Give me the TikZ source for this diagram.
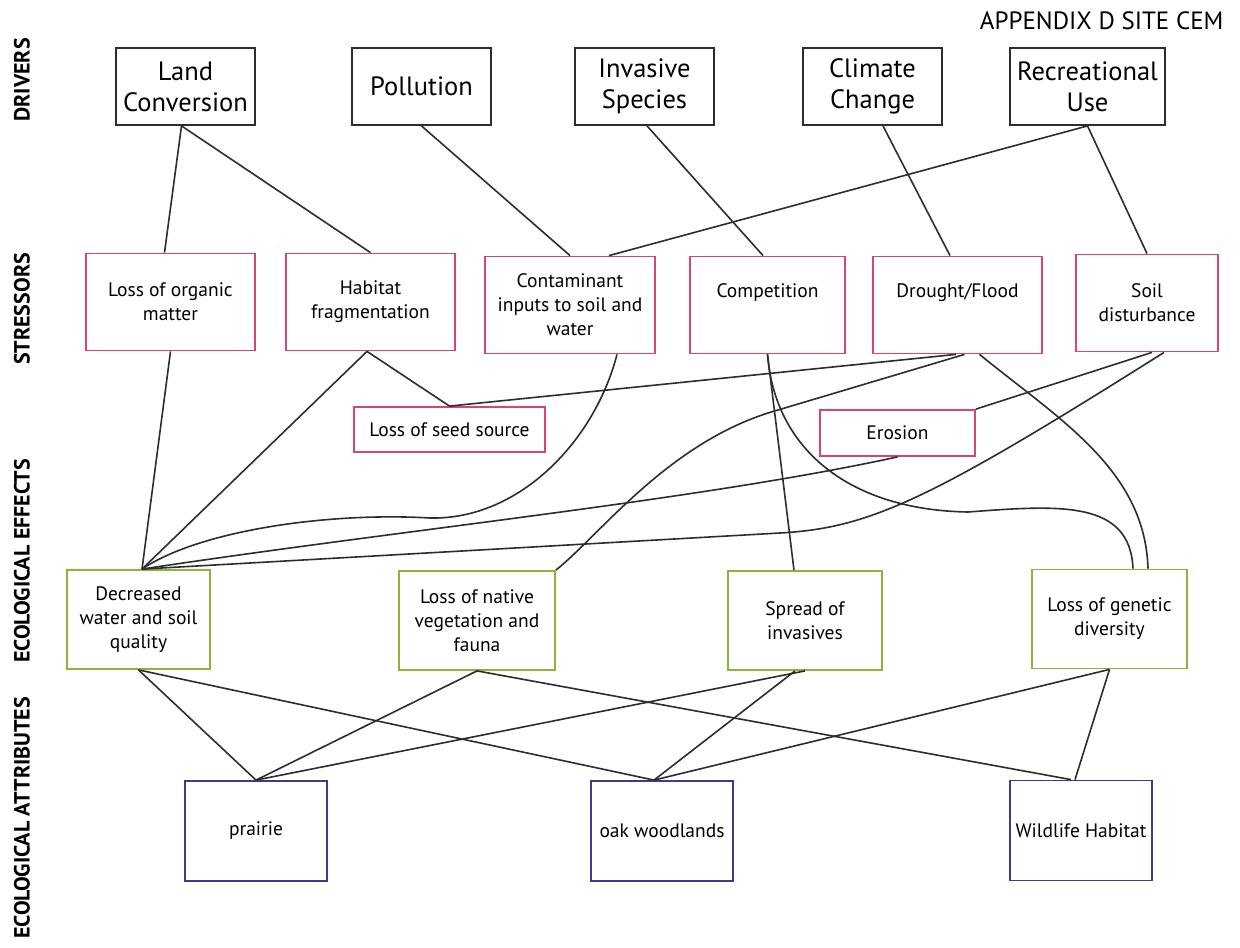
\documentclass[tikz,border=0pt]{standalone}
\usepackage{fontspec}
\setmainfont{PT Sans}
\usetikzlibrary{arrows.meta}
\definecolor{cemink}{RGB}{45,45,45}
\definecolor{cempink}{RGB}{217,66,122}
\definecolor{cemgreen}{RGB}{140,180,60}
\definecolor{cemblue}{RGB}{59,59,143}

\begin{document}
\begin{tikzpicture}[
  x=1pt, y=-1pt,
  base/.style={rectangle, inner sep=2pt, align=center, fill=white},
  driver/.style={base, draw=cemink, line width=1.8pt, minimum width=139pt, minimum height=77pt, font=\fontsize{26.5}{31}\selectfont},
  stressor/.style={base, draw=cempink, line width=1.8pt, minimum height=97pt, font=\fontsize{19.5}{24}\selectfont},
  effect/.style={base, draw=cemgreen, line width=1.8pt, minimum height=99pt, font=\fontsize{19.5}{24}\selectfont},
  attr/.style={base, draw=cemblue, line width=1.8pt, minimum width=142pt, minimum height=100pt, font=\fontsize{19.5}{24}\selectfont},
  tier/.style={rotate=90, font=\bfseries\fontsize{22}{24}\selectfont},
  link/.style={draw=cemink, line width=1.6pt}
]
\fill[white] (0,0) rectangle (1240,948);
\useasboundingbox (0,0) rectangle (1240,948);

\node[anchor=north east, font=\fontsize{25}{30}\selectfont] (title) at (1227,8) {APPENDIX D SITE CEM};

\node[tier] (tdrv) at (22,80) {DRIVERS};
\node[tier] (tstr) at (22,309) {STRESSORS};
\node[tier] (teff) at (22,561) {ECOLOGICAL EFFECTS};
\node[tier] (tatt) at (22,818) {ECOLOGICAL ATTRIBUTES};

\node[driver] (landconv) at (185.5,86.5) {Land\\Conversion};
\node[driver] (pollution) at (421.5,86.5) {Pollution};
\node[driver] (invasive) at (644.5,86.5) {Invasive\\Species};
\node[driver] (climate) at (872.5,86.5) {Climate\\Change};
\node[driver, minimum width=155pt] (recreation) at (1087.5,86.5) {Recreational\\Use};

\node[stressor, minimum width=169pt] (organic) at (170.5,302) {Loss of organic\\matter};
\node[stressor, minimum width=169pt] (fragment) at (370.5,302) {Habitat\\fragmentation};
\node[stressor, minimum width=170pt] (contam) at (570,305) {Contaminant\\inputs to soil and\\water};
\node[stressor, minimum width=155pt] (compet) at (767.5,305) {Competition\\[4pt]};
\node[stressor, minimum width=169pt] (drought) at (957.5,305) {Drought/Flood\\[4pt]};
\node[stressor, minimum width=142pt] (soil) at (1147,303) {Soil\\disturbance};
\node[stressor, minimum width=191pt, minimum height=45pt] (seedloss) at (449.5,429.5) {Loss of seed source};
\node[stressor, minimum width=155pt, minimum height=46pt] (erosion) at (897.5,433) {Erosion};

\node[effect, minimum width=143pt] (waterq) at (138.5,619.5) {Decreased\\water and soil\\quality};
\node[effect, minimum width=156pt] (native) at (477,620.5) {Loss of native\\vegetation and\\fauna};
\node[effect, minimum width=154pt] (spread) at (805,620.5) {Spread of\\invasives};
\node[effect, minimum width=155pt] (genetic) at (1109.5,619) {Loss of genetic\\diversity};

\node[attr] (prairie) at (256,831) {prairie};
\node[attr] (oak) at (662,831) {oak woodlands};
\node[attr] (wildlife) at (1081,830.5) {Wildlife Habitat};

\draw[link] ([xshift=-4]landconv.south) -- ([xshift=-6]organic.north);
\draw[link] ([xshift=-4]landconv.south) -- (fragment.north);
\draw[link] (pollution.south) -- (contam.north);
\draw[link] ([xshift=2.5]invasive.south) -- ([xshift=-4.5]compet.north);
\draw[link] ([xshift=10.5]climate.south) -- ([xshift=-7.5]drought.north);
\draw[link] (recreation.south) -- (soil.north);
\draw[link] (recreation.south) -- ([xshift=39]contam.north);

\draw[link] (organic.south) -- ([xshift=3.5]waterq.north);
\draw[link] ([xshift=-3.5]fragment.south) -- ([xshift=3.5]waterq.north);
\draw[link] ([xshift=-3.5]fragment.south) -- (seedloss.north);
\draw[link] (seedloss.north) -- ([xshift=-1.5]drought.south);
\draw[link] ([xshift=47]contam.south) .. controls (595,440) and (520,520) .. (430,518)
  .. controls (330,512) and (200,530) .. ([xshift=3.5]waterq.north);
\draw[link] (erosion.south) .. controls (700,500) and (400,530) .. ([xshift=3.5]waterq.north);
\draw[link] ([xshift=17]soil.south) .. controls (930,500) and (870,528) .. (780,533)
  -- ([xshift=3.5]waterq.north);
\draw[link] ([xshift=7]drought.south) -- (778,410) .. controls (670,440) and (600,535) .. (native.north east);
\draw[link] (compet.south) -- ([xshift=-11]spread.north);
\draw[link] (compet.south) .. controls (775,450) and (850,510) .. (968,512)
  .. controls (1060,505) and (1130,500) .. ([xshift=23.5]genetic.north);
\draw[link] ([xshift=22]drought.south) .. controls (1060,420) and (1145,470) .. ([xshift=38.5]genetic.north);
\draw[link] ([xshift=5]soil.south) -- (erosion.north east);

\draw[link] (waterq.south) -- (prairie.north);
\draw[link] (waterq.south) -- ([xshift=-8]oak.north);
\draw[link] (native.south) -- (prairie.north);
\draw[link] (native.south) -- ([xshift=-10]wildlife.north);
\draw[link] (spread.south) -- (prairie.north);
\draw[link] ([xshift=-10]spread.south) -- ([xshift=-8]oak.north);
\draw[link] (genetic.south) -- ([xshift=-8]oak.north);
\draw[link] (genetic.south) -- ([xshift=-6]wildlife.north);

\end{tikzpicture}
\end{document}
